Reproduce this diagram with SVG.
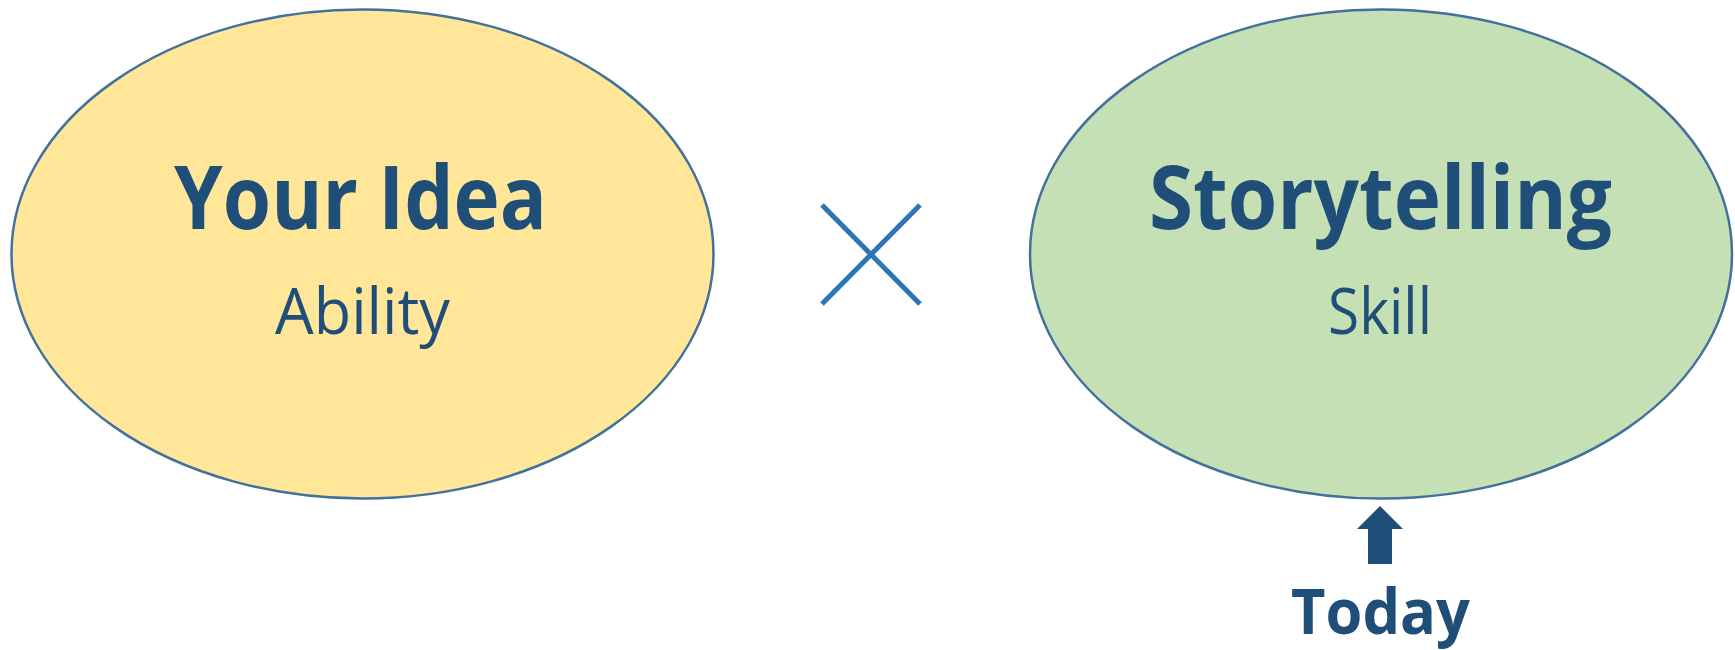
<svg xmlns="http://www.w3.org/2000/svg" width="1735" height="650" viewBox="0 0 1735 650">
  <style>
    .node-shape { stroke: #41719C; stroke-width: 2.5; }
    .title { font-family: "Open Sans", "Noto Sans", "Liberation Sans", sans-serif; font-weight: 700; fill: #1F4E79; text-anchor: middle; }
    .sub { font-family: "Open Sans", "Noto Sans", "Liberation Sans", sans-serif; font-weight: 400; fill: #1F4E79; text-anchor: middle; }
  </style>
  <rect width="1735" height="650" fill="#FFFFFF"/>

  <g id="node-idea">
    <ellipse class="node-shape" cx="362.5" cy="254" rx="351" ry="244.5" fill="#FFE699"/>
    <text class="title" x="360.5" y="229" font-size="88" textLength="373" lengthAdjust="spacingAndGlyphs">Your Idea</text>
    <text class="sub" x="362.5" y="334" font-size="64" textLength="175" lengthAdjust="spacingAndGlyphs">Ability</text>
  </g>

  <g id="operator-times">
    <path d="M822,205 L920,304 M920,205 L822,304" stroke="#2E75B6" stroke-width="5" fill="none"/>
  </g>

  <g id="node-storytelling">
    <ellipse class="node-shape" cx="1381" cy="254" rx="351" ry="244.5" fill="#C5E0B4"/>
    <text class="title" x="1380.5" y="229" font-size="88" textLength="463" lengthAdjust="spacingAndGlyphs">Storytelling</text>
    <text class="sub" x="1380" y="334" font-size="64" textLength="104" lengthAdjust="spacingAndGlyphs">Skill</text>
  </g>

  <g id="connectors">
    <polygon points="1380,506 1403,529 1392,529 1392,564 1368,564 1368,529 1357,529" fill="#1F4E79"/>
  </g>

  <g id="node-today">
    <text class="title" x="1380.5" y="634" font-size="62" textLength="179" lengthAdjust="spacingAndGlyphs">Today</text>
  </g>
</svg>
